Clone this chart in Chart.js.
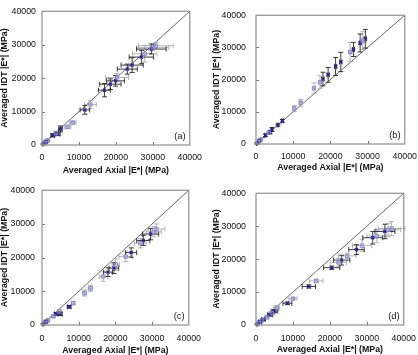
<!DOCTYPE html>
<html lang="en">
<head>
<meta charset="UTF-8">
<title>Averaged IDT vs Axial |E*|</title>
<script src="https://cdn.jsdelivr.net/npm/chart.js"></script>
<style>
  html, body { margin: 0; padding: 0; background: #fff; }
  body { width: 418px; height: 355px; position: relative; overflow: hidden; }
  canvas { position: absolute; }
</style>
</head>
<body>
<canvas id="chartA" width="209" height="177" style="left:0;top:0"></canvas>
<canvas id="chartB" width="215" height="177" style="left:209px;top:0"></canvas>
<canvas id="chartC" width="209" height="177" style="left:0;top:178px"></canvas>
<canvas id="chartD" width="215" height="177" style="left:209px;top:178px"></canvas>
<script>
// axis ticks shared by all panels (MPa)
const tickValues = [0, 10000, 20000, 30000, 40000];

// panel (a)
const aAxial    = [300, 700, 1100, 1600, 2900, 3800, 4300, 5000, 6900, 8300, 11600, 13100, 16900, 18500, 19900, 20300, 23100, 24400, 26900, 27800, 29600, 30000, 30800];
const aIdt      = [300, 600, 950, 1400, 2900, 3500, 3300, 4800, 5400, 6700, 10500, 12100, 16400, 18200, 19200, 20200, 22700, 23900, 26300, 27300, 28700, 29200, 29700];
const aAxialErr = [200, 300, 300, 400, 500, 600, 600, 500, 900, 900, 1300, 1600, 1600, 2900, 2400, 3100, 2700, 3000, 3300, 3300, 4000, 4300, 4700];
const aIdtErr   = [200, 300, 300, 400, 500, 600, 500, 900, 500, 500, 1300, 1200, 2000, 1600, 1600, 1200, 1500, 2200, 2000, 2500, 1500, 1000, 900];
const aKind     = [0, 1, 0, 1, 0, 1, 0, 0, 1, 1, 0, 1, 0, 0, 0, 1, 0, 0, 0, 1, 0, 1, 1];

// panel (b)
const bAxial    = [200, 500, 900, 1300, 2500, 3400, 3800, 4300, 5900, 7100, 10300, 12000, 15600, 17200, 18000, 19400, 21400, 22800, 25300, 26200, 28000, 28700, 29400];
const bIdt      = [200, 500, 1000, 1400, 2700, 3500, 3700, 4500, 5900, 7200, 11000, 12800, 17300, 19200, 20200, 21500, 24100, 25500, 28600, 29400, 31400, 32100, 32700];
const bAxialErr = [100, 100, 150, 150, 200, 200, 200, 200, 200, 200, 300, 300, 300, 300, 300, 300, 300, 300, 300, 300, 300, 300, 300];
const bIdtErr   = [200, 200, 300, 300, 400, 400, 500, 600, 300, 400, 900, 1100, 1700, 2000, 2100, 2300, 2800, 3000, 2900, 2200, 2800, 2800, 2900];
const bKind     = [0, 1, 0, 1, 0, 1, 0, 0, 0, 0, 1, 1, 1, 1, 0, 0, 0, 0, 1, 0, 0, 1, 0];

// panel (c)
const cAxial    = [300, 700, 1100, 1600, 3100, 3800, 4700, 5000, 7400, 8500, 11600, 13200, 16700, 18000, 19600, 20100, 22800, 24300, 26800, 27600, 29600, 30500, 31200];
const cIdt      = [250, 600, 1000, 1400, 2600, 3300, 4000, 3300, 5400, 6500, 9500, 10900, 14400, 15700, 16900, 17900, 20300, 21500, 24300, 25100, 27000, 27700, 28500];
const cAxialErr = [200, 200, 300, 300, 400, 400, 500, 500, 500, 500, 500, 600, 1100, 1200, 1300, 1000, 1800, 1500, 1600, 1800, 2200, 2000, 2300];
const cIdtErr   = [200, 200, 300, 300, 400, 400, 500, 500, 400, 500, 900, 900, 1400, 1300, 1600, 1700, 1400, 1400, 1400, 1500, 1700, 1500, 1500];
const cKind     = [0, 1, 0, 1, 1, 0, 1, 0, 0, 1, 1, 1, 1, 0, 0, 1, 1, 0, 1, 0, 0, 1, 1];

// panel (d)
const dAxial    = [300, 700, 1100, 1600, 2000, 2900, 3800, 4300, 5000, 5600, 8500, 10000, 14300, 16300, 20500, 22300, 23200, 24700, 27200, 28700, 31600, 32700, 34900, 35800, 36700];
const dIdt      = [250, 600, 950, 1400, 1700, 2300, 3100, 3600, 4200, 5200, 6600, 8000, 11700, 13400, 17400, 19000, 19700, 21000, 22900, 24100, 26500, 27000, 28400, 28900, 29300];
const dAxialErr = [200, 300, 400, 400, 500, 600, 700, 800, 900, 800, 1200, 1100, 1800, 1800, 2200, 2200, 2200, 2400, 2100, 2600, 2700, 2700, 2700, 3300, 3600];
const dIdtErr   = [200, 200, 300, 300, 300, 400, 400, 500, 500, 700, 400, 400, 500, 500, 500, 1200, 1500, 800, 1500, 1800, 1900, 2000, 2200, 2000, 2100];
const dKind     = [0, 1, 0, 1, 0, 1, 0, 1, 0, 1, 0, 1, 0, 1, 0, 1, 0, 1, 0, 1, 0, 1, 0, 1, 1];

const FONT = "'Liberation Sans', Arial, sans-serif";

// error bars, 1:1 line, inward ticks, frame and panel letter
const decorations = {
    id: 'decorations',
    beforeDatasetsDraw(chart) {
        const { ctx, scales: { x, y } } = chart;
        ctx.save();
        // 1:1 line
        ctx.strokeStyle = '#444';
        ctx.lineWidth = 0.8;
        ctx.beginPath();
        ctx.moveTo(x.getPixelForValue(0), y.getPixelForValue(0));
        ctx.lineTo(x.getPixelForValue(40000), y.getPixelForValue(40000));
        ctx.stroke();

        // error bars
        const cap = 2.5;
        chart.data.datasets.forEach(ds => {
            ctx.strokeStyle = ds.barColor;
            ctx.lineWidth = 0.9;
            ds.data.forEach(p => {
                const px = x.getPixelForValue(p.x);
                const py = y.getPixelForValue(p.y);
                const x0 = x.getPixelForValue(p.x - p.xErr);
                const x1 = x.getPixelForValue(p.x + p.xErr);
                const y0 = y.getPixelForValue(p.y - p.yErr);
                const y1 = y.getPixelForValue(p.y + p.yErr);
                ctx.beginPath();
                ctx.moveTo(x0, py); ctx.lineTo(x1, py);
                ctx.moveTo(x0, py - cap); ctx.lineTo(x0, py + cap);
                ctx.moveTo(x1, py - cap); ctx.lineTo(x1, py + cap);
                ctx.moveTo(px, y0); ctx.lineTo(px, y1);
                ctx.moveTo(px - cap, y0); ctx.lineTo(px + cap, y0);
                ctx.moveTo(px - cap, y1); ctx.lineTo(px + cap, y1);
                ctx.stroke();
            });
        });
        ctx.restore();
    },
    afterDatasetsDraw(chart, args, opts) {
        const { ctx, chartArea: a, scales: { x, y } } = chart;
        ctx.save();
        // inward tick marks
        ctx.strokeStyle = '#777';
        ctx.lineWidth = 1;
        ctx.beginPath();
        tickValues.slice(1, -1).forEach(v => {
            const tx = Math.round(x.getPixelForValue(v)) + 0.5;
            ctx.moveTo(tx, a.bottom); ctx.lineTo(tx, a.bottom - 3);
            const ty = Math.round(y.getPixelForValue(v)) + 0.5;
            ctx.moveTo(a.left, ty); ctx.lineTo(a.left + 3, ty);
        });
        ctx.stroke();
        // frame
        ctx.strokeStyle = '#909090';
        ctx.lineWidth = 1.2;
        ctx.strokeRect(a.left, a.top, a.right - a.left, a.bottom - a.top);
        // panel letter
        ctx.fillStyle = '#222';
        ctx.font = '9.5px ' + FONT;
        ctx.textAlign = 'right';
        ctx.textBaseline = 'middle';
        ctx.fillText(opts.letter, a.right - 4, a.bottom - 9);
        ctx.restore();
    }
};

function buildDatasets(axial, idt, axialErr, idtErr, kind) {
    const styles = [
        { pointStyle: 'crossRot', borderColor: '#23239a', backgroundColor: '#23239a', borderWidth: 1.2, barColor: '#262626', radius: 2.2 },
        { pointStyle: 'rect', borderColor: '#8686d6', backgroundColor: 'rgba(150,150,225,0.3)', borderWidth: 0.9, barColor: '#ababab', radius: 2.4 }
    ];
    return [1, 0].map(k => ({
        data: axial.map((v, i) => ({ x: v, y: idt[i], xErr: axialErr[i], yErr: idtErr[i], k: kind[i] }))
                   .filter(p => p.k === k),
        pointStyle: styles[k].pointStyle,
        pointRadius: styles[k].radius,
        borderColor: styles[k].borderColor,
        backgroundColor: styles[k].backgroundColor,
        borderWidth: styles[k].borderWidth,
        barColor: styles[k].barColor
    }));
}

function makeChart(id, datasets, letter, box) {
    const ctx = document.getElementById(id).getContext('2d');
    return new Chart(ctx, {
        type: 'scatter',
        data: { datasets },
        options: {
            responsive: false,
            animation: false,
            devicePixelRatio: 1,
            layout: { padding: { top: box.padTop, right: box.padRight, left: 0, bottom: 0 } },
            plugins: {
                legend: { display: false },
                tooltip: { enabled: false },
                decorations: { letter }
            },
            scales: {
                x: {
                    type: 'linear', min: 0, max: 40000,
                    afterBuildTicks: s => { s.ticks = tickValues.map(v => ({ value: v })); },
                    afterFit: s => { s.height = box.xH; },
                    grid: { display: false, drawTicks: false },
                    border: { display: false },
                    ticks: { color: '#111', padding: box.xTickPad, maxRotation: 0, callback: v => String(v), font: { family: FONT, size: 8.8 } },
                    title: {
                        display: true, text: 'Averaged Axial |E*| (MPa)', color: '#111',
                        padding: { top: 0, bottom: box.xTitlePad },
                        font: { family: FONT, size: 8.8, weight: 'bold', lineHeight: 1 }
                    }
                },
                y: {
                    type: 'linear', min: 0, max: 40000,
                    afterBuildTicks: s => { s.ticks = tickValues.map(v => ({ value: v })); },
                    afterFit: s => { s.width = box.yW; },
                    grid: { display: false, drawTicks: false },
                    border: { display: false },
                    ticks: { color: '#111', padding: box.yTickPad, callback: v => String(v), font: { family: FONT, size: 8.8 } },
                    title: {
                        display: true, text: 'Averaged IDT |E*| (MPa)', color: '#111',
                        padding: { top: box.yTitlePad, bottom: 0 },
                        font: { family: FONT, size: 8.8, weight: 'bold', lineHeight: 1 }
                    }
                }
            }
        },
        plugins: [decorations]
    });
}

makeChart('chartA', buildDatasets(aAxial, aIdt, aAxialErr, aIdtErr, aKind), '(a)',
    { padTop: 5, padRight: 17, yW: 42, xH: 32, yTickPad: 6, xTickPad: 7, xTitlePad: 2, yTitlePad: 0 });
makeChart('chartB', buildDatasets(bAxial, bIdt, bAxialErr, bIdtErr, bKind), '(b)',
    { padTop: 3, padRight: 18, yW: 47, xH: 33, yTickPad: 10, xTickPad: 7, xTitlePad: 5, yTitlePad: 3 });
makeChart('chartC', buildDatasets(cAxial, cIdt, cAxialErr, cIdtErr, cKind), '(c)',
    { padTop: 7, padRight: 17, yW: 42, xH: 30, yTickPad: 7, xTickPad: 8, xTitlePad: 0, yTitlePad: 0 });
makeChart('chartD', buildDatasets(dAxial, dIdt, dAxialErr, dIdtErr, dKind), '(d)',
    { padTop: 7, padRight: 18, yW: 47, xH: 30, yTickPad: 10, xTickPad: 8, xTitlePad: 1, yTitlePad: 3 });
</script>
</body>
</html>
